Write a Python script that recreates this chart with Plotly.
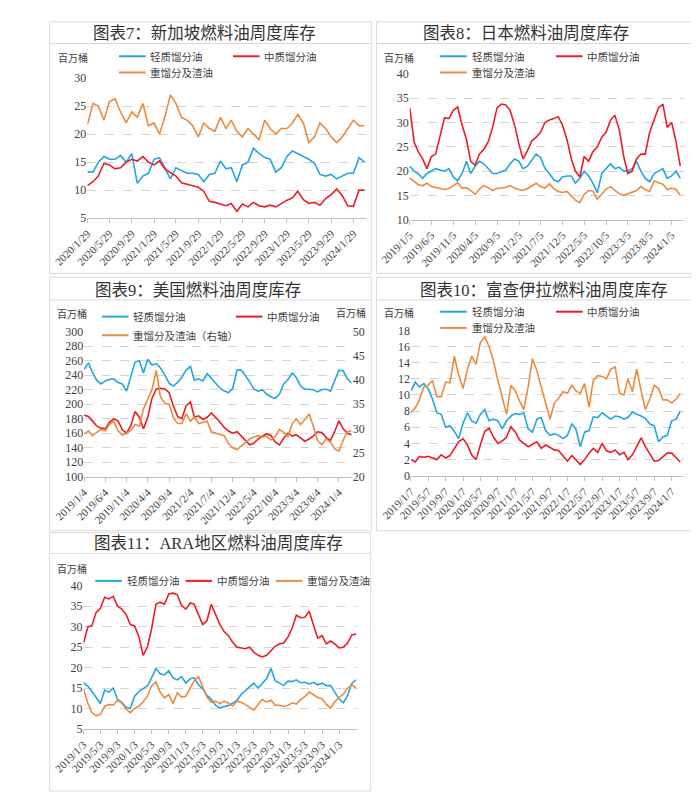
import pandas as pd
import plotly.graph_objects as go

W, H = 700, 797

# ---------------- data (million barrels, monthly readings) ----------------
sg_start = "2020-01-29"
sg_ticklabels = ["2020/1/29", "2020/5/29", "2020/9/29", "2021/1/29", "2021/5/29", "2021/9/29",
                 "2022/1/29", "2022/5/29", "2022/9/29", "2023/1/29", "2023/5/29", "2023/9/29", "2024/1/29"]
sg_light = [13.3, 13.2, 15.0, 16.0, 15.5, 15.5, 16.2, 15.0, 16.5, 11.2,
            12.5, 13.0, 15.5, 15.8, 14.0, 12.0, 14.0, 13.5, 13.0, 13.0,
            12.8, 11.5, 12.8, 13.0, 15.2, 13.8, 14.0, 11.5, 14.5, 15.0,
            17.5, 16.5, 15.8, 15.5, 13.2, 14.0, 16.0, 17.0, 16.5, 16.0,
            15.5, 14.8, 12.8, 12.5, 12.8, 12.0, 12.5, 13.0, 13.0, 15.8, 15.0]
sg_mid = [10.8, 11.5, 12.5, 14.8, 14.5, 13.8, 14.0, 15.0, 15.5, 15.2,
          16.0, 15.0, 14.5, 15.2, 13.8, 13.2, 12.5, 11.3, 11.0, 10.8,
          10.5, 9.8, 8.0, 7.8, 7.5, 7.2, 7.6, 6.2, 7.5, 7.0,
          7.8, 7.2, 7.0, 7.3, 7.0, 7.6, 8.2, 8.6, 9.8, 8.3,
          7.6, 7.8, 7.3, 8.5, 9.2, 10.2, 9.0, 7.2, 7.1, 10.0, 10.0]
sg_heavy = [21.7, 25.5, 25.0, 22.5, 25.8, 26.3, 24.0, 22.0, 24.0, 23.0,
            25.5, 21.5, 22.0, 20.0, 23.0, 27.0, 25.5, 23.0, 22.5, 21.5,
            19.5, 22.0, 21.0, 20.5, 23.0, 21.0, 22.5, 20.5, 19.5, 21.0,
            20.0, 19.0, 22.5, 21.0, 20.0, 21.0, 21.0, 22.0, 23.5, 22.0,
            18.5, 19.5, 22.0, 21.0, 19.5, 18.5, 19.5, 21.0, 22.5, 21.5, 21.5]

jp_start = "2019-01-05"
jp_ticklabels = ["2019/1/5", "2019/6/5", "2019/11/5", "2020/4/5", "2020/9/5", "2021/2/5", "2021/7/5",
                 "2021/12/5", "2022/5/5", "2022/10/5", "2023/3/5", "2023/8/5", "2024/1/5"]
jp_light = [21.0, 20.0, 19.5, 18.5, 19.5, 20.0, 20.5, 20.2, 20.0, 20.5,
            18.8, 18.0, 19.5, 22.0, 19.5, 21.0, 22.0, 21.5, 20.5, 19.5,
            19.5, 19.8, 20.2, 21.5, 22.5, 22.0, 20.5, 21.0, 22.3, 23.5,
            22.8, 20.5, 19.5, 18.2, 17.8, 18.8, 19.0, 19.0, 17.5, 18.5,
            20.0, 19.0, 17.5, 15.5, 19.5, 20.5, 21.5, 20.5, 20.8, 20.0,
            20.0, 20.5, 22.0, 20.0, 18.5, 17.8, 19.5, 20.0, 20.5, 18.5,
            19.0, 20.0, 18.5]
jp_mid = [33.0, 26.0, 24.0, 22.5, 20.5, 23.0, 23.5, 27.0, 31.0, 30.8,
          32.5, 33.2, 29.5, 26.5, 22.0, 21.2, 23.5, 24.5, 26.0, 29.0,
          33.0, 33.8, 33.6, 32.5, 29.5, 25.5, 22.5, 24.2, 26.2, 27.0,
          28.0, 30.0, 30.5, 30.8, 31.2, 29.5, 26.5, 22.5, 20.0, 18.8,
          23.0, 22.0, 24.0, 25.0, 27.0, 28.0, 30.5, 31.5, 28.5, 23.0,
          19.5, 20.0, 22.5, 23.5, 23.5, 28.0, 30.5, 33.0, 33.8, 29.0,
          30.0, 26.0, 21.0]
jp_heavy = [18.6, 17.8, 17.2, 17.0, 17.5, 16.8, 16.6, 16.5, 16.2, 16.4,
            17.0, 17.6, 16.5, 16.6, 16.0, 15.2, 16.3, 17.0, 16.6, 16.0,
            16.4, 16.5, 16.6, 17.0, 16.5, 16.2, 16.0, 16.4, 17.0, 17.5,
            16.8, 16.5, 17.4, 16.4, 15.8, 15.6, 15.8, 14.8, 14.0, 13.5,
            15.2, 16.0, 15.9, 14.2, 15.3, 16.3, 16.8, 16.0, 15.3, 15.0,
            15.3, 15.6, 16.0, 16.8, 16.2, 15.8, 18.0, 17.6, 17.3, 16.2,
            16.5, 16.2, 15.0]

us_start = "2019-01-04"
us_ticklabels = ["2019/1/4", "2019/6/4", "2019/11/4", "2020/4/4", "2020/9/4", "2021/2/4", "2021/7/4",
                 "2021/12/4", "2022/5/4", "2022/10/4", "2023/3/4", "2023/8/4", "2024/1/4"]
us_light = [248, 257, 244, 233, 228, 232, 234, 235, 230, 228,
            218, 236, 258, 260, 243, 262, 254, 256, 250, 240,
            229, 225, 230, 237, 247, 252, 233, 235, 232, 242,
            235, 228, 222, 218, 216, 222, 247, 247, 240, 231,
            221, 218, 220, 214, 210, 208, 214, 228, 234, 243,
            237, 225, 221, 220, 220, 217, 220, 221, 218, 232,
            247, 246, 235, 229]
us_mid = [185, 183, 177, 170, 167, 166, 175, 180, 177, 165,
          160, 170, 190, 182, 166, 182, 208, 221, 222, 221,
          216, 198, 183, 180, 198, 203, 182, 184, 179, 182,
          188, 182, 175, 168, 163, 160, 162, 156, 150, 144,
          146, 152, 156, 159, 157, 148, 144, 153, 160, 156,
          158, 154, 149, 152, 156, 162, 161, 154, 150, 162,
          177, 166, 160, 158]
us_heavy = [28.8, 29.5, 28.5, 29.2, 29.8, 29.5, 30.8, 31.5, 29.5, 28.6,
            29.0, 29.6, 30.8, 30.5, 34.0, 36.0, 38.0, 42.0, 36.5, 35.2,
            35.0, 32.2, 31.0, 31.0, 33.0, 31.5, 32.3, 31.0, 31.2, 31.5,
            29.3, 29.0, 28.8, 28.5, 26.8, 26.0, 25.6, 26.3, 27.0, 27.8,
            28.2, 28.5, 28.2, 28.4, 27.6, 28.3, 29.8, 29.2, 28.3, 31.0,
            32.0, 30.8, 31.8, 33.0, 30.5, 27.5, 26.6, 27.8, 27.2, 25.8,
            25.3, 27.6, 29.3, 29.5]

fj_start = "2019-01-07"
fj_ticklabels = ["2019/1/7", "2019/5/7", "2019/9/7", "2020/1/7", "2020/5/7", "2020/9/7", "2021/1/7",
                 "2021/5/7", "2021/9/7", "2022/1/7", "2022/5/7", "2022/9/7", "2023/1/7", "2023/5/7",
                 "2023/9/7", "2024/1/7"]
fj_light = [10.5, 11.6, 11.0, 11.4, 10.8, 9.5, 7.8, 7.6, 6.0, 6.2,
            5.5, 4.6, 6.5, 7.8, 6.8, 6.5, 7.6, 8.2, 6.8, 7.0,
            6.8, 5.8, 6.8, 7.4, 7.7, 7.6, 7.8, 5.8, 5.4, 7.0,
            7.2, 5.6, 5.0, 5.2, 5.0, 4.6, 5.0, 6.4, 5.8, 3.6,
            5.4, 5.6, 7.3, 7.2, 7.8, 7.4, 7.0, 7.4, 7.3, 7.0,
            7.2, 7.9, 7.6, 7.4, 7.1, 6.4, 6.2, 4.2, 4.8, 5.0,
            6.8, 7.0, 8.0]
fj_mid = [2.0, 1.7, 2.4, 2.3, 2.4, 2.2, 2.0, 2.6, 2.2, 2.5,
          3.4, 4.2, 4.6, 3.8, 2.6, 2.0, 3.8, 5.5, 5.9, 4.8,
          4.0, 4.3, 4.8, 6.1, 5.4, 4.4, 4.0, 3.6, 3.9, 4.2,
          3.4, 3.8, 3.5, 3.2, 3.1, 2.4, 1.8, 2.5, 2.0, 1.4,
          2.0, 2.8, 3.4, 2.9, 4.0, 3.1, 2.9, 3.2, 2.6, 2.9,
          2.0, 2.6, 3.6, 4.7, 3.6, 2.7, 1.8, 1.9, 2.3, 2.8,
          2.8, 2.2, 1.7]
fj_heavy = [7.8, 8.4, 9.4, 11.0, 11.2, 11.8, 9.8, 9.8, 11.6, 11.5,
            14.8, 12.5, 10.8, 13.2, 14.8, 13.8, 16.5, 17.2, 16.0, 14.2,
            11.8, 9.8, 7.6, 11.2, 10.5, 9.2, 8.2, 11.0, 14.5, 13.0,
            11.0, 9.0, 7.0, 9.0, 9.6, 10.4, 10.2, 11.2, 10.5, 10.2,
            11.4, 8.5, 11.8, 12.4, 12.3, 12.0, 13.2, 13.5, 10.2, 10.0,
            12.0, 10.4, 13.2, 10.5, 8.2, 9.5, 11.2, 10.8, 9.4, 9.4,
            9.0, 9.5, 10.2]

ara_start = "2019-01-03"
ara_ticklabels = ["2019/1/3", "2019/5/3", "2019/9/3", "2020/1/3", "2020/5/3", "2020/9/3", "2021/1/3",
                  "2021/5/3", "2021/9/3", "2022/1/3", "2022/5/3", "2022/9/3", "2023/1/3", "2023/5/3",
                  "2023/9/3", "2024/1/3"]
ara_light = [16.3, 15.4, 14.2, 12.8, 11.2, 14.5, 14.0, 15.0, 12.2, 11.5,
             10.3, 10.0, 13.0, 14.2, 14.8, 15.5, 17.5, 19.8, 18.5, 18.2,
             19.2, 17.5, 17.0, 17.8, 16.2, 17.3, 17.5, 15.8, 14.8, 13.2,
             12.3, 10.8, 10.1, 10.5, 10.7, 11.4, 12.0, 13.5, 14.4, 15.2,
             16.2, 15.0, 16.2, 17.3, 19.8, 16.8, 16.2, 15.6, 16.7, 16.6,
             17.0, 16.3, 16.4, 16.0, 16.4, 15.8, 16.2, 15.6, 15.6, 14.0,
             12.3, 11.4, 13.2, 16.2, 17.0]
ara_mid = [26.0, 30.0, 30.2, 33.5, 34.5, 37.2, 36.8, 37.4, 35.0, 34.3,
           33.0, 30.5, 30.2, 27.5, 23.0, 25.0, 29.5, 35.5, 36.0, 35.5,
           38.0, 38.2, 37.8, 35.2, 34.3, 35.8, 35.5, 33.0, 30.5, 31.5,
           35.5, 33.0, 30.5, 28.8, 27.8, 26.2, 25.0, 24.8, 24.6, 25.0,
           23.8, 23.0, 22.6, 23.0, 24.0, 25.2, 25.8, 26.0, 27.5, 29.8,
           32.8, 32.2, 32.3, 33.8, 30.5, 27.2, 27.8, 25.8, 26.5, 25.8,
           24.8, 25.0, 26.0, 28.0, 28.2]
ara_heavy = [14.8, 11.2, 9.0, 8.2, 8.6, 10.5, 11.0, 10.8, 12.0, 11.3,
             9.8, 9.0, 10.0, 10.6, 11.6, 13.0, 15.5, 16.5, 14.0, 12.6,
             13.4, 11.2, 13.8, 12.8, 13.0, 15.0, 16.8, 17.8, 15.2, 12.8,
             11.5, 11.8, 11.2, 11.8, 11.3, 10.6, 11.8, 11.5, 11.0, 10.2,
             9.6, 11.0, 12.2, 11.6, 12.0, 10.8, 10.8, 10.5, 10.8, 11.4,
             11.1, 12.2, 12.9, 14.0, 13.3, 12.7, 12.4, 11.0, 10.1, 11.6,
             12.7, 13.5, 15.0, 15.8, 15.0]

names = ["轻质馏分油", "中质馏分油", "重馏分及渣油"]

# ---------------- styling ----------------
C_BLUE, C_RED, C_ORANGE = "#22A6E0", "#EE1C25", "#EE8A3D"
SERIF = "Liberation Serif, Times New Roman, Noto Sans CJK SC"
CJK = "Noto Sans CJK SC, Liberation Serif"
TXT = "#404040"
GRID = "#d4d4d4"
BORDER = "#d9d9d9"


def monthly(start, n):
    s = pd.Timestamp(start)
    return [s + pd.DateOffset(months=k) for k in range(n)]


def tickdates(labels):
    return [pd.to_datetime(t, format="%Y/%m/%d") for t in labels]


def fx(px):
    return px / W


def fy(py):
    return 1 - py / H


fig = go.Figure()
shapes, annotations = [], []

# panel geometry (pixels)
panels = [
    dict(key="1", title="图表7：新加坡燃料油周度库存", box=(7, 7, 346, 263), tline=29, tpos=(170, 19),
         start=sg_start, ticks=sg_ticklabels, series=(sg_light, sg_mid, sg_heavy),
         xdom=(46.7, 340), xend="2024-04-07", ydom=(64.3, 206.7), yr=(5, 30), dt=5,
         leg=dict(unit=(32, 43), rows=[(80, 42, 0), (200, 42, 1), (80, 58.5, 2)])),
    dict(key="2", title="图表8：日本燃料油周度库存", box=(351, 7, 695, 263), tline=29, tpos=(508, 19),
         start=jp_start, ticks=jp_ticklabels, series=(jp_light, jp_mid, jp_heavy),
         xdom=(386, 675), xend="2024-04-02", ydom=(60, 208.3), yr=(10, 40), dt=5,
         leg=dict(unit=(375, 43), rows=[(418, 42, 0), (540, 42, 1), (418, 58.5, 2)])),
    dict(key="3", title="图表9：美国燃料油周度库存", box=(7, 267, 346, 525), tline=290, tpos=(163, 280),
         start=us_start, ticks=us_ticklabels, series=(us_light, us_mid, us_heavy),
         xdom=(43.3, 325), xend="2024-04-05", ydom=(322.3, 470), yr=(100, 300), dt=20,
         leg=dict(unit=(31, 304), rows=[(62, 307, 0), (203, 307, 1), (62, 326, 2)])),
    dict(key="4", title="图表10：富查伊拉燃料油周度库存", box=(351, 267, 695, 525), tline=290, tpos=(527, 280),
         start=fj_start, ticks=fj_ticklabels, series=(fj_light, fj_mid, fj_heavy),
         xdom=(387.3, 675), xend="2024-04-04", ydom=(321, 469), yr=(0, 18), dt=2,
         leg=dict(unit=(375, 303), rows=[(418, 302, 0), (540, 302, 1), (418, 318.5, 2)])),
    dict(key="5", title="图表11：ARA地区燃料油周度库存", box=(7, 527, 345, 790), tline=548, tpos=(185, 538),
         start=ara_start, ticks=ara_ticklabels, series=(ara_light, ara_mid, ara_heavy),
         xdom=(42.7, 330), xend="2024-05-06", ydom=(581, 726.7), yr=(5, 40), dt=5,
         leg=dict(unit=(31, 563), rows=[(55, 576, 0), (150, 576, 1), (245, 576, 2)])),
]

colors = [C_BLUE, C_RED, C_ORANGE]
layout_axes = {}

for p in panels:
    k = p["key"]
    xa = "x" if k == "1" else "x" + k
    ya = "y" if k == "1" else "y" + k
    xname = "xaxis" if k == "1" else "xaxis" + k
    yname = "yaxis" if k == "1" else "yaxis" + k
    for i, vals in enumerate(p["series"]):
        trace_y = ya
        if k == "3" and i == 2:
            trace_y = "y6"
        fig.add_trace(go.Scatter(
            x=monthly(p["start"], len(vals)), y=vals, mode="lines", name=names[i],
            line=dict(color=colors[i], width=1.6), xaxis=xa, yaxis=trace_y, showlegend=False))
    layout_axes[xname] = dict(
        type="date", domain=[fx(p["xdom"][0]), fx(p["xdom"][1])], anchor=ya,
        range=[pd.Timestamp(p["start"]), pd.Timestamp(p["xend"])],
        tickmode="array", tickvals=tickdates(p["ticks"]), ticktext=p["ticks"], tickangle=-45,
        tickfont=dict(family=SERIF, size=11, color=TXT),
        showline=True, linecolor="#bfbfbf", linewidth=1, ticks="outside", ticklen=4,
        tickcolor="#bfbfbf", showgrid=False, zeroline=False)
    layout_axes[yname] = dict(
        domain=[fy(p["ydom"][1]), fy(p["ydom"][0])], anchor=xa, range=list(p["yr"]),
        tick0=p["yr"][0], dtick=p["dt"], showgrid=True, gridcolor=GRID, griddash="dash",
        gridwidth=1, zeroline=False, showline=False, ticks="",
        tickfont=dict(family=SERIF, size=12, color=TXT))
    if k == "3":
        layout_axes["yaxis6"] = dict(
            overlaying="y3", side="right", anchor="x3", range=[20, 50], tick0=20, dtick=5,
            showgrid=False, zeroline=False, showline=False, ticks="",
            tickfont=dict(family=SERIF, size=12, color=TXT))

    # panel frame and title separator
    x0, y0, x1, y1 = p["box"]
    shapes.append(dict(type="rect", xref="paper", yref="paper", x0=fx(x0), x1=fx(x1), y0=fy(y1), y1=fy(y0),
                       line=dict(color=BORDER, width=1), fillcolor="rgba(0,0,0,0)", layer="below"))
    shapes.append(dict(type="line", xref="paper", yref="paper", x0=fx(x0), x1=fx(x1),
                       y0=fy(p["tline"]), y1=fy(p["tline"]), line=dict(color=BORDER, width=1)))
    annotations.append(dict(text=p["title"], xref="paper", yref="paper", x=fx(p["tpos"][0]), y=fy(p["tpos"][1]),
                            xanchor="center", yanchor="middle", showarrow=False,
                            font=dict(family=SERIF, size=16.5, color="#333333")))
    # unit label(s)
    ux, uy = p["leg"]["unit"]
    annotations.append(dict(text="百万桶", xref="paper", yref="paper", x=fx(ux), y=fy(uy),
                            xanchor="center", yanchor="middle", showarrow=False,
                            font=dict(family=CJK, size=10, color=TXT)))
    if k == "3":
        annotations.append(dict(text="百万桶", xref="paper", yref="paper", x=fx(324), y=fy(303),
                                xanchor="center", yanchor="middle", showarrow=False,
                                font=dict(family=CJK, size=10, color=TXT)))
    # legend entries
    for lx, ly, idx in p["leg"]["rows"]:
        shapes.append(dict(type="line", xref="paper", yref="paper", x0=fx(lx), x1=fx(lx + 28),
                           y0=fy(ly), y1=fy(ly), line=dict(color=colors[idx], width=2)))
        label = names[idx]
        if k == "3" and idx == 2:
            label = "重馏分及渣油（右轴）"
        annotations.append(dict(text=label, xref="paper", yref="paper", x=fx(lx + 31), y=fy(ly),
                                xanchor="left", yanchor="middle", showarrow=False,
                                font=dict(family=CJK, size=10.5, color=TXT)))

fig.update_layout(
    width=W, height=H, margin=dict(l=0, r=0, t=0, b=0),
    paper_bgcolor="white", plot_bgcolor="white",
    shapes=shapes, annotations=annotations, showlegend=False,
    **layout_axes)

fig.write_html("out.html")
